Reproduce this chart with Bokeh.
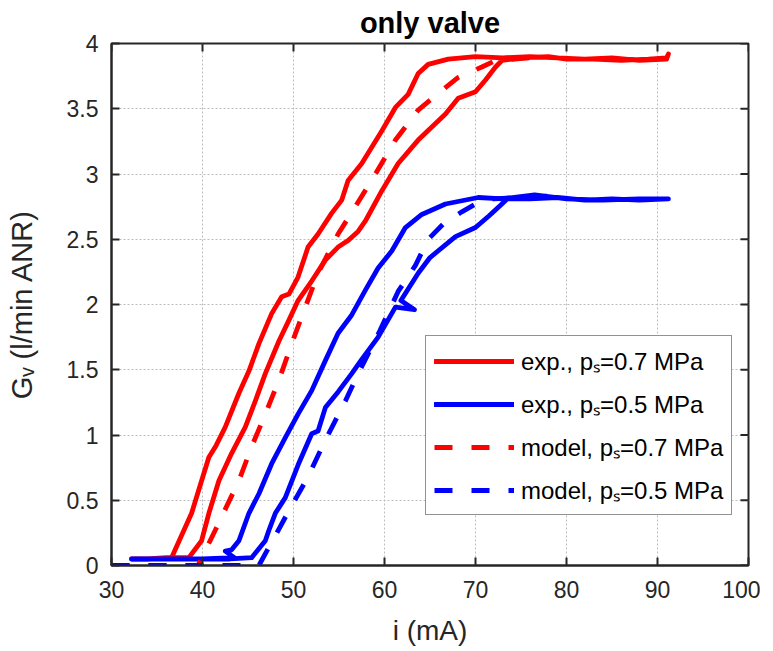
import math
from bokeh.plotting import figure
from bokeh.models import Range1d, Legend, LegendItem, FixedTicker
from bokeh.embed import file_html
from bokeh.resources import INLINE

# ---- data ----
# experimental loop, ps = 0.7 MPa (bottom flat -> lower branch -> top flat -> upper branch -> bottom)
red_exp_x = [32.2, 34.0, 36.0, 38.5, 39.9, 40.7, 41.8, 43.2, 44.7, 45.8, 46.9, 48.4, 49.5, 50.5,
             52.0, 53.5, 54.9, 56.0, 57.1, 57.9, 59.7, 61.5, 63.7, 66.7, 68.1, 70.0, 71.1, 72.2,
             72.9, 75.0, 78.0, 80.0, 83.0, 86.0, 89.0, 91.0, 91.2,
             91.0, 88.0, 85.0, 82.0, 79.0, 76.0, 73.0, 70.0, 67.0, 64.8, 63.7, 62.6, 61.2, 59.7,
             57.5, 56.0, 55.3, 54.2, 52.7, 51.6, 50.5, 49.5, 48.7, 47.6, 46.2, 45.1, 44.0, 42.5,
             41.5, 40.7, 39.9, 38.8, 37.5, 36.6, 34.0, 32.2]
red_exp_y = [0.05, 0.05, 0.06, 0.06, 0.19, 0.40, 0.65, 0.86, 1.06, 1.26, 1.47, 1.72, 1.88, 2.03,
             2.18, 2.34, 2.44, 2.49, 2.56, 2.64, 2.87, 3.08, 3.26, 3.46, 3.58, 3.63, 3.72, 3.82,
             3.87, 3.89, 3.90, 3.88, 3.88, 3.87, 3.88, 3.89, 3.92,
             3.88, 3.87, 3.89, 3.88, 3.89, 3.90, 3.89, 3.90, 3.88, 3.84, 3.77, 3.61, 3.51, 3.33,
             3.08, 2.95, 2.80, 2.70, 2.54, 2.44, 2.21, 2.08, 2.06, 1.93, 1.70, 1.49, 1.32, 1.06,
             0.92, 0.83, 0.65, 0.40, 0.20, 0.06, 0.05, 0.05]

# experimental loop, ps = 0.5 MPa
blue_exp_x = [32.2, 36.0, 40.0, 43.0, 45.4, 46.9, 47.3, 48.0, 49.1, 50.5, 52.0, 52.7, 53.5, 54.9,
              56.4, 57.5, 59.3, 61.2, 63.3, 61.8, 63.7, 65.0, 67.8, 70.0, 71.5, 72.9, 73.5,
              76.0, 79.0, 82.0, 85.0, 88.0, 91.2,
              88.0, 84.0, 80.0, 76.5, 73.0, 70.3, 66.7, 64.1, 62.3, 60.8, 59.3, 57.9, 56.4, 54.9,
              53.5, 52.0, 50.5, 49.1, 47.6, 46.2, 45.1, 44.0, 43.2, 42.5, 43.5, 40.0, 36.0, 32.2]
blue_exp_y = [0.05, 0.05, 0.05, 0.05, 0.06, 0.19, 0.27, 0.40, 0.52, 0.77, 1.01, 1.03, 1.21, 1.33,
              1.47, 1.58, 1.75, 1.98, 1.96, 2.03, 2.24, 2.36, 2.52, 2.59, 2.68, 2.77, 2.81,
              2.81, 2.82, 2.80, 2.81, 2.80, 2.81,
              2.81, 2.80, 2.81, 2.84, 2.81, 2.82, 2.77, 2.69, 2.59, 2.41, 2.28, 2.11, 1.92, 1.78,
              1.57, 1.34, 1.16, 0.98, 0.78, 0.55, 0.40, 0.19, 0.12, 0.11, 0.06, 0.05, 0.05, 0.05]

# model, ps = 0.7 MPa
red_mod_x = [30.0, 39.5, 41.4, 44.0, 45.4, 46.9, 48.4, 49.8, 51.3, 52.7, 54.9, 56.8, 59.0, 61.2,
             63.7, 66.3, 68.1, 70.7, 72.2, 78.0]
red_mod_y = [0.0, 0.0, 0.27, 0.65, 0.91, 1.16, 1.42, 1.70, 1.98, 2.24, 2.54, 2.75, 3.00, 3.26,
             3.49, 3.64, 3.74, 3.82, 3.87, 3.90]

# model, ps = 0.5 MPa
blue_mod_x = [30.0, 46.2, 49.5, 51.6, 53.5, 55.7, 57.1, 59.5, 61.5, 63.4, 64.8, 66.5, 68.5, 70.0,
              72.0, 78.0]
blue_mod_y = [0.0, 0.0, 0.42, 0.68, 0.96, 1.26, 1.47, 1.80, 2.10, 2.30, 2.50, 2.62, 2.71, 2.77,
              2.81, 2.83]

x_ticks = [30, 40, 50, 60, 70, 80, 90, 100]
y_ticks = [0, 0.5, 1, 1.5, 2, 2.5, 3, 3.5, 4]
y_tick_labels = {0: "0", 0.5: "0.5", 1: "1", 1.5: "1.5", 2: "2", 2.5: "2.5", 3: "3", 3.5: "3.5", 4: "4"}

labels = ["exp., p\u209b=0.7 MPa", "exp., p\u209b=0.5 MPa",
          "model, p\u209b=0.7 MPa", "model, p\u209b=0.5 MPa"]

FONT = "Liberation Sans"
AX = "#262626"
X_MIN, X_MAX, Y_MIN, Y_MAX = 30, 100, 0, 4

p = figure(frame_width=637, frame_height=522, output_backend="svg", toolbar_location=None,
           x_range=Range1d(X_MIN, X_MAX), y_range=Range1d(Y_MIN, Y_MAX),
           min_border_left=111, min_border_right=12, min_border_top=41, min_border_bottom=77,
           title="only valve")
p.title.align = "center"
p.title.text_font = FONT
p.title.text_font_size = "29px"
p.title.text_font_style = "bold"
p.title.text_color = "#000000"
p.title.offset = 0
p.title.standoff = 9

p.background_fill_color = "white"
p.border_fill_color = "white"
p.outline_line_color = AX
p.outline_line_width = 2

# grids
for g in (p.xgrid, p.ygrid):
    g.grid_line_color = "#bdbdbd"
    g.grid_line_dash = "2 2"
    g.grid_line_width = 1
p.xgrid.ticker = FixedTicker(ticks=x_ticks)
p.ygrid.ticker = FixedTicker(ticks=y_ticks)

def style_axis(ax):
    ax.axis_line_color = AX
    ax.axis_line_width = 2
    ax.major_tick_line_color = AX
    ax.major_tick_line_width = 2
    ax.major_tick_in = 8
    ax.major_tick_out = 0
    ax.minor_tick_line_color = None
    ax.major_label_text_font = FONT
    ax.major_label_text_color = AX
    ax.major_label_text_font_size = "23px"
    ax.axis_label_text_font = FONT
    ax.axis_label_text_font_style = "normal"
    ax.axis_label_text_color = AX

p.xaxis.ticker = FixedTicker(ticks=x_ticks)
p.yaxis.ticker = FixedTicker(ticks=y_ticks)
p.yaxis.major_label_overrides = y_tick_labels
style_axis(p.xaxis[0])
style_axis(p.yaxis[0])
p.xaxis.axis_label = "i (mA)"
p.yaxis.axis_label = "G\u1d65 (l/min ANR)"
p.xaxis.axis_label_text_font_size = "28px"
p.yaxis.axis_label_text_font_size = "29px"
p.xaxis.major_label_standoff = 15
p.yaxis.major_label_standoff = 13
p.xaxis.axis_label_standoff = 14
p.yaxis.axis_label_standoff = 26

# inward tick marks on the top and right edges of the box (MATLAB "box on")
p.ray(x=x_ticks, y=[Y_MAX] * len(x_ticks), length=8, length_units="screen",
      angle=-math.pi / 2, line_color=AX, line_width=2)
p.ray(x=[X_MAX] * len(y_ticks), y=y_ticks, length=8, length_units="screen",
      angle=math.pi, line_color=AX, line_width=2)

LW = 4.8
r1 = p.line(red_exp_x, red_exp_y, line_color="#ff0000", line_width=LW, line_join="round", line_cap="round")
r2 = p.line(blue_exp_x, blue_exp_y, line_color="#0000ff", line_width=LW, line_join="round", line_cap="round")
r3 = p.line(red_mod_x, red_mod_y, line_color="#ff0000", line_width=LW, line_dash="18 19")
r4 = p.line(blue_mod_x, blue_mod_y, line_color="#0000ff", line_width=LW, line_dash="18 19")

legend = Legend(items=[LegendItem(label=labels[0], renderers=[r1]),
                       LegendItem(label=labels[1], renderers=[r2]),
                       LegendItem(label=labels[2], renderers=[r3]),
                       LegendItem(label=labels[3], renderers=[r4])],
                location=(314, 50))
legend.label_text_font = FONT
legend.label_text_font_size = "24px"
legend.label_text_color = "#000000"
legend.glyph_width = 80
legend.glyph_height = 30
legend.label_height = 30
legend.label_standoff = 7
legend.spacing = 10
legend.padding = 8
legend.margin = 0
legend.border_line_color = AX
legend.border_line_width = 1.5
legend.background_fill_color = "white"
legend.background_fill_alpha = 1
p.add_layout(legend)

open("out.html", "w").write(file_html(p, INLINE))
